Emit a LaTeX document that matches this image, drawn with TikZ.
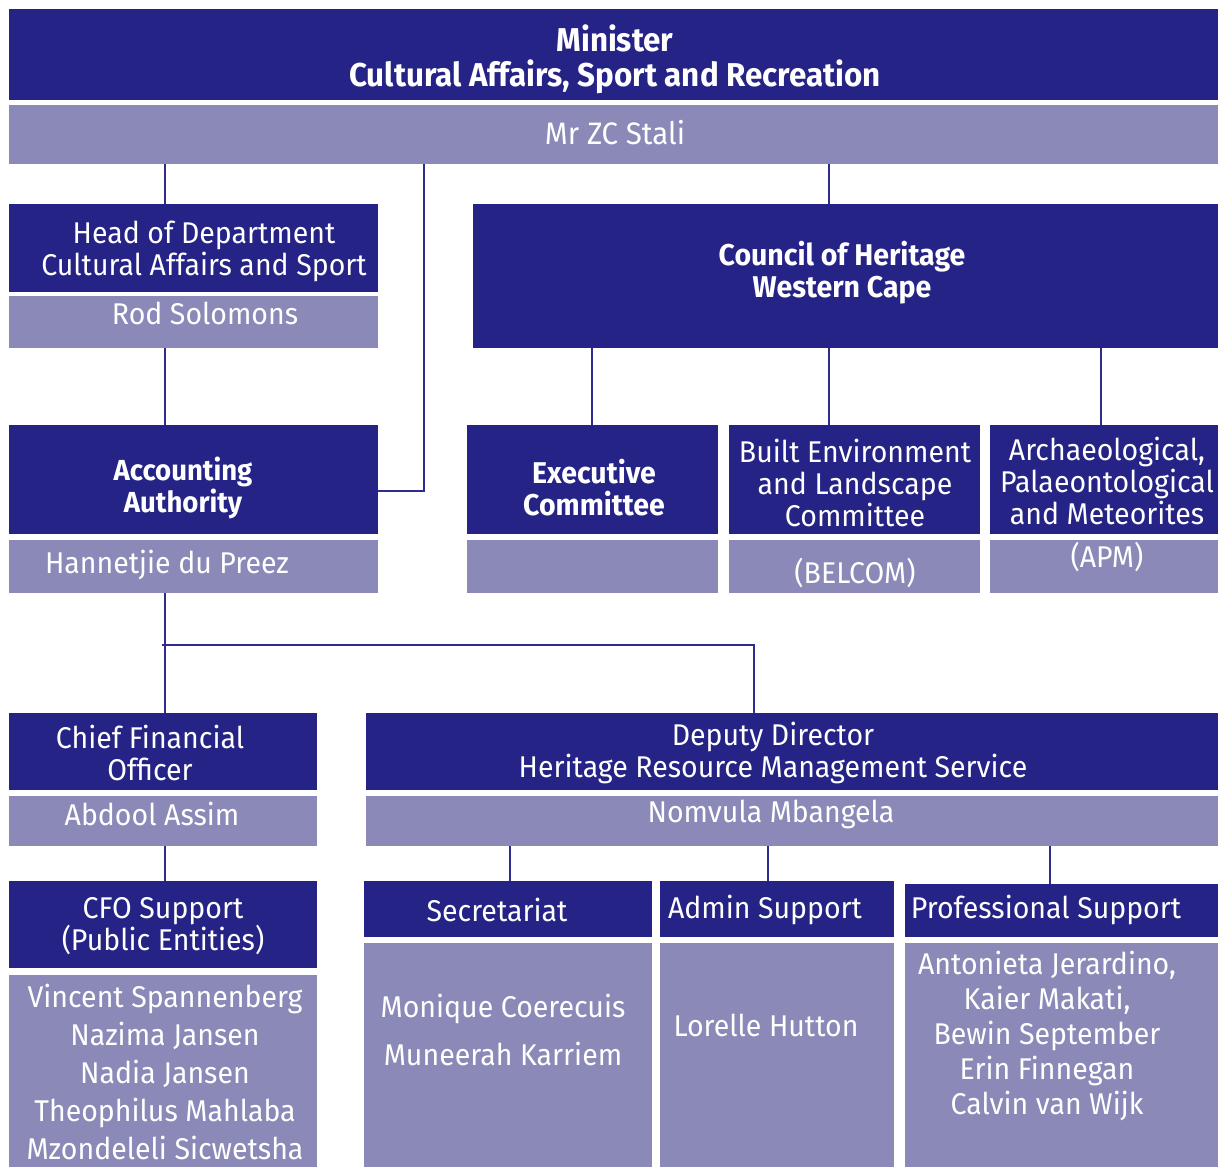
\documentclass[tikz,border=0pt]{standalone}
\usepackage{fontspec}
\setmainfont{Fira Sans}[FakeStretch=0.95]
\usetikzlibrary{positioning}
\definecolor{navy}{HTML}{252385}
\definecolor{lilac}{HTML}{8A89B8}
\definecolor{linkc}{HTML}{2E2C8E}

\tikzset{
  dark/.style={fill=navy, inner sep=0pt, anchor=north west},
  light/.style={fill=lilac, inner sep=0pt, anchor=north west},
  txt/.style={text=white, align=center, inner sep=0pt, font=\fontsize{30}{32}\selectfont},
  link/.style={draw=linkc, line width=2pt}
}
% name, style, x1, y1, x2, y2
\newcommand{\orgbox}[6]{\node[#2, minimum width=#5pt-#3pt, minimum height=#6pt-#4pt] (#1) at (#3,#4) {};}

\begin{document}
\begin{tikzpicture}[x=1pt, y=-1pt]
	\useasboundingbox (0,0) rectangle (1218,1167);

	% boxes
	\orgbox{min}{dark}{9}{9}{1218}{100}
	\orgbox{minN}{light}{9}{105}{1218}{164}
	\orgbox{hod}{dark}{9}{204}{378}{292}
	\orgbox{hodN}{light}{9}{296}{378}{348}
	\orgbox{acc}{dark}{9}{425}{378}{534}
	\orgbox{accN}{light}{9}{540}{378}{593}
	\orgbox{coh}{dark}{473}{204}{1218}{348}
	\orgbox{exe}{dark}{467}{425}{718}{534}
	\orgbox{exeN}{light}{467}{540}{718}{593}
	\orgbox{bel}{dark}{729}{425}{980}{534}
	\orgbox{belN}{light}{729}{540}{980}{593}
	\orgbox{apm}{dark}{990}{425}{1218}{534}
	\orgbox{apmN}{light}{990}{540}{1218}{593}
	\orgbox{cfo}{dark}{9}{713}{317}{790}
	\orgbox{cfoN}{light}{9}{796}{317}{846}
	\orgbox{dd}{dark}{366}{713}{1218}{790}
	\orgbox{ddN}{light}{366}{796}{1218}{846}
	\orgbox{cfs}{dark}{9}{881}{317}{968}
	\orgbox{cfsN}{light}{9}{975}{317}{1167}
	\orgbox{sec}{dark}{364}{881}{652}{937}
	\orgbox{secN}{light}{364}{943}{652}{1167}
	\orgbox{adm}{dark}{660}{881}{894}{937}
	\orgbox{admN}{light}{660}{943}{894}{1167}
	\orgbox{pro}{dark}{905}{884}{1218}{937}
	\orgbox{proN}{light}{905}{943}{1218}{1167}

	% connectors
	\draw[link] (165,0 |- minN.south) -- (165,0 |- hod.north);
	\draw[link] (424,0 |- minN.south) |- (acc.east |- 0,491);
	\draw[link] (829,0 |- minN.south) -- (829,0 |- coh.north);
	\draw[link] (165,0 |- hodN.south) -- (165,0 |- acc.north);
	\draw[link] (592,0 |- coh.south) -- (592,0 |- exe.north);
	\draw[link] (829,0 |- coh.south) -- (829,0 |- bel.north);
	\draw[link] (1101,0 |- coh.south) -- (1101,0 |- apm.north);
	\draw[link] (165,0 |- accN.south) -- (165,0 |- cfo.north);
	\coordinate (split) at (162,645);
	\draw[link] (split) -| (754,0 |- dd.north);
	\draw[link] (165,0 |- cfoN.south) -- (165,0 |- cfs.north);
	\draw[link] (510,0 |- ddN.south) -- (510,0 |- sec.north);
	\draw[link] (768,0 |- ddN.south) -- (768,0 |- adm.north);
	\draw[link] (1050,0 |- ddN.south) -- (1050,0 |- pro.north);

	% texts
	\node[txt, font=\fontsize{33}{35}\selectfont\bfseries] (minT) at (615,59.5) {Minister\\Cultural Affairs, Sport and Recreation};
	\node[txt, font=\fontsize{31}{35}\selectfont] (minNT) at (615,133) {Mr ZC Stali};
	\node[txt] (hodT) at (204,251) {Head of Department\\Cultural Affairs and Sport};
	\node[txt] (hodNT) at (205,313) {Rod Solomons};
	\node[txt, font=\fontsize{29}{32}\selectfont\bfseries] (accT) at (183,488) {Accounting\\Authority};
	\node[txt] (accNT) at (167,565) {Hannetjie du Preez};
	\node[txt, font=\fontsize{30}{32}\selectfont\bfseries] (cohT) at (842,273) {Council of Heritage\\Western Cape};
	\node[txt, font=\fontsize{30}{32}\selectfont\bfseries] (exeT) at (594,488) {Executive\\Committee};
	\node[txt] (belT) at (855,483) {Built Environment\\and Landscape\\Committee};
	\node[txt] (belNT) at (855,573) {(BELCOM)};
	\node[txt] (apmT) at (1107,481) {Archaeological,\\Palaeontological\\and Meteorites};
	\node[txt] (apmNT) at (1107,557) {(APM)};
	\node[txt] (cfoT) at (150,753) {Chief Financial\\Officer};
	\node[txt] (cfoNT) at (152,814) {Abdool Assim};
	\node[txt] (ddT) at (773,753) {Deputy Director\\Heritage Resource Management Service};
	\node[txt] (ddNT) at (771,814) {Nomvula Mbangela};
	\node[txt] (cfsT) at (163,926) {CFO Support\\(Public Entities)};
	\node[txt, font=\fontsize{30}{38}\selectfont] (cfsNT) at (165,1072) {Vincent Spannenberg\\Nazima Jansen\\Nadia Jansen\\Theophilus Mahlaba\\Mzondeleli Sicwetsha};
	\node[txt] (secT) at (497,910) {Secretariat};
	\node[txt, font=\fontsize{30}{48}\selectfont] (secNT) at (503,1030) {Monique Coerecuis\\Muneerah Karriem};
	\node[txt] (admT) at (765,910) {Admin Support};
	\node[txt] (admNT) at (766,1025) {Lorelle Hutton};
	\node[txt] (proT) at (1046,910) {Professional Support};
	\node[txt, font=\fontsize{30}{35}\selectfont] (proNT) at (1047,1036) {Antonieta Jerardino,\\Kaier Makati,\\Bewin September\\Erin Finnegan\\Calvin van Wijk};
\end{tikzpicture}
\end{document}
